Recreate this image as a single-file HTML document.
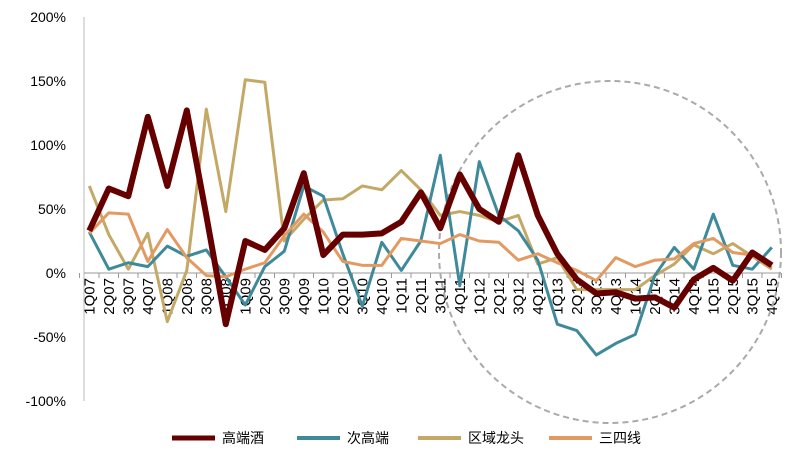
<!DOCTYPE html>
<html><head><meta charset="utf-8"><style>body{margin:0;background:#fff}svg{display:block}</style></head><body>
<svg id="c" width="789" height="457" xmlns="http://www.w3.org/2000/svg" font-family="Liberation Sans, Noto Sans CJK SC, sans-serif"></svg>
<script>
const s=document.getElementById('c');const NS='http://www.w3.org/2000/svg';
function el(t,a,txt){const e=document.createElementNS(NS,t);for(const k in a)e.setAttribute(k,a[k]);if(txt!=null)e.textContent=txt;s.appendChild(e);return e;}
const Y=v=>273-1.28*v, X=i=>89.3+19.5*i;
el('line',{x1:84,y1:17,x2:84,y2:401,stroke:'#bbb','stroke-width':1});
for(let v=-100;v<=200;v+=50){el('text',{x:66,y:Y(v)+5,'text-anchor':'end','font-size':14,fill:'#000'},v+'%');}
el('line',{x1:84,y1:273,x2:781,y2:273,stroke:'#999','stroke-width':1});
for(let i=0;i<=36;i++){const x=79.5+19.5*i;el('line',{x1:x,y1:273,x2:x,y2:278,stroke:'#999'});}
const labs=[];for(let y=7;y<=15;y++)for(let q=1;q<=4;q++)labs.push(q+'Q'+String(y).padStart(2,'0'));
labs.forEach((l,i)=>{const x=X(i)+5,y=278;el('text',{x:x,y:y,'text-anchor':'end','font-size':15,transform:`rotate(-90 ${x} ${y})`},l);});
el('circle',{cx:610,cy:252,r:171,fill:'none',stroke:'#aaa','stroke-width':2,'stroke-dasharray':'6,4'});
const D={
a:[33,66,60,122,68,127,45,-40,25,18,35,78,14,30,30,31,40,63,35,77,50,40,92,45,15,-5,-16,-15,-20,-19,-27,-5,4,-6,16,6],
b:[32,3,8,5,21,13,18,-3,-25,5,17,68,60,15,-26,24,2,25,92,-10,87,45,33,10,-40,-45,-64,-55,-48,-2,20,3,46,6,3,20],
c:[68,30,3,31,-38,2,128,48,151,149,25,42,57,58,68,65,80,65,45,48,45,40,45,7,12,-13,-13,-13,-13,-2,7,22,15,23,13,3],
d:[31,47,46,9,34,12,-2,-3,3,8,29,46,32,9,6,6,27,25,23,30,25,24,10,15,8,2,-6,12,5,10,11,23,27,16,14,4]};
const st={a:['#660000',6],b:['#3f8a9a',3],c:['#c4a865',3],d:['#e39a62',3]};
['c','b','d','a'].forEach(k=>{el('polyline',{points:D[k].map((v,i)=>X(i)+','+Y(v)).join(' '),fill:'none',stroke:st[k][0],'stroke-width':st[k][1],'stroke-linejoin':'round'});});
const lg=[['a',172,'高端酒'],['b',297,'次高端'],['c',418,'区域龙头'],['d',549,'三四线']];
lg.forEach(([k,x,t])=>{el('line',{x1:x,y1:438,x2:x+43,y2:438,stroke:st[k][0],'stroke-width':k=='a'?5:4});el('text',{x:x+50,y:443,'font-size':14},t);});
</script>
</body></html>
